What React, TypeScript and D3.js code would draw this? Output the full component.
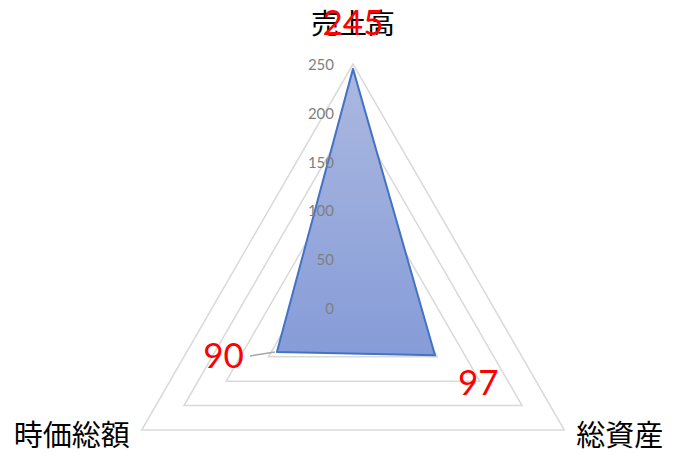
import * as d3 from "d3";
import React from 'react'

const categories = ["売上高", "総資産", "時価総額"]
const values = [245, 97, 90]
const ticks = [0, 50, 100, 150, 200, 250]
const gridLevels = [50, 100, 150, 200, 250]

const W = 679
const H = 454
const cx = 353
const cy = 308

const App: React.FC = () => {
  const r = d3.scaleLinear([0, 250], [0, 244])
  // clockwise from top, like Excel's radar
  const angle = d3.scaleLinear([0, categories.length], [-Math.PI / 2, Math.PI * 1.5])
  const pt = (i: number, v: number): [number, number] => [
    cx + r(v) * Math.cos(angle(i)),
    cy + r(v) * Math.sin(angle(i)),
  ]
  const line = d3.line<[number, number]>().curve(d3.curveLinearClosed)

  const pts = values.map((v, i) => pt(i, v))
  const outer = categories.map((_, i) => pt(i, 250))

  return (
    <svg width={W} height={H} style={{ position: "fixed", left: 0, top: 0, background: "white" }}>
      <defs>
        <linearGradient id="fillGrad" x1="0" y1="0" x2="0" y2="1">
          <stop offset="0%" stopColor="#abb8e0" />
          <stop offset="100%" stopColor="#869cd8" />
        </linearGradient>
      </defs>
      {gridLevels.map(g => (
        <path key={g} d={line(categories.map((_, i) => pt(i, g))) || ""}
              fill="none" stroke="#d9d9d9" strokeWidth={1.5} />
      ))}
      <path d={line(pts) || ""} fill="url(#fillGrad)" stroke="#4472c4" strokeWidth={2} strokeLinejoin="round" />
      {ticks.map(t => (
        <text key={t} x={cx - 19} y={cy - r(t)} textAnchor="end" dominantBaseline="central"
              fontFamily="Lato, 'Noto Sans'" fontSize={15} fill="#7f7f7f">{t}</text>
      ))}
      {/* category labels */}
      <text x={outer[0][0]} y={outer[0][1] - 42} textAnchor="middle" dominantBaseline="central"
            fontFamily="'Noto Sans CJK JP'" fontSize={28} fill="#000">{categories[0]}</text>
      <text x={outer[1][0] + 12} y={outer[1][1] + 3} textAnchor="start" dominantBaseline="central"
            fontFamily="'Noto Sans CJK JP'" fontSize={29} fill="#000">{categories[1]}</text>
      <text x={outer[2][0] - 12} y={outer[2][1] + 3} textAnchor="end" dominantBaseline="central"
            fontFamily="'Noto Sans CJK JP'" fontSize={29} fill="#000">{categories[2]}</text>
      {/* data labels */}
      <line x1={pts[2][0] - 27} y1={pts[2][1] + 4} x2={pts[2][0] - 2} y2={pts[2][1]} stroke="#a6a6a6" strokeWidth={1.5} />
      <text x={pts[0][0]} y={pts[0][1] - 34} textAnchor="middle"
            fontFamily="Lato" fontSize={35} fill="#ff0000">{values[0]}</text>
      <text x={pts[1][0] + 23} y={pts[1][1] + 40} textAnchor="start"
            fontFamily="Lato" fontSize={35} fill="#ff0000">{values[1]}</text>
      <text x={pts[2][0] - 33} y={pts[2][1] + 16} textAnchor="end"
            fontFamily="Lato" fontSize={35} fill="#ff0000">{values[2]}</text>
    </svg>
  )
}

export default App
